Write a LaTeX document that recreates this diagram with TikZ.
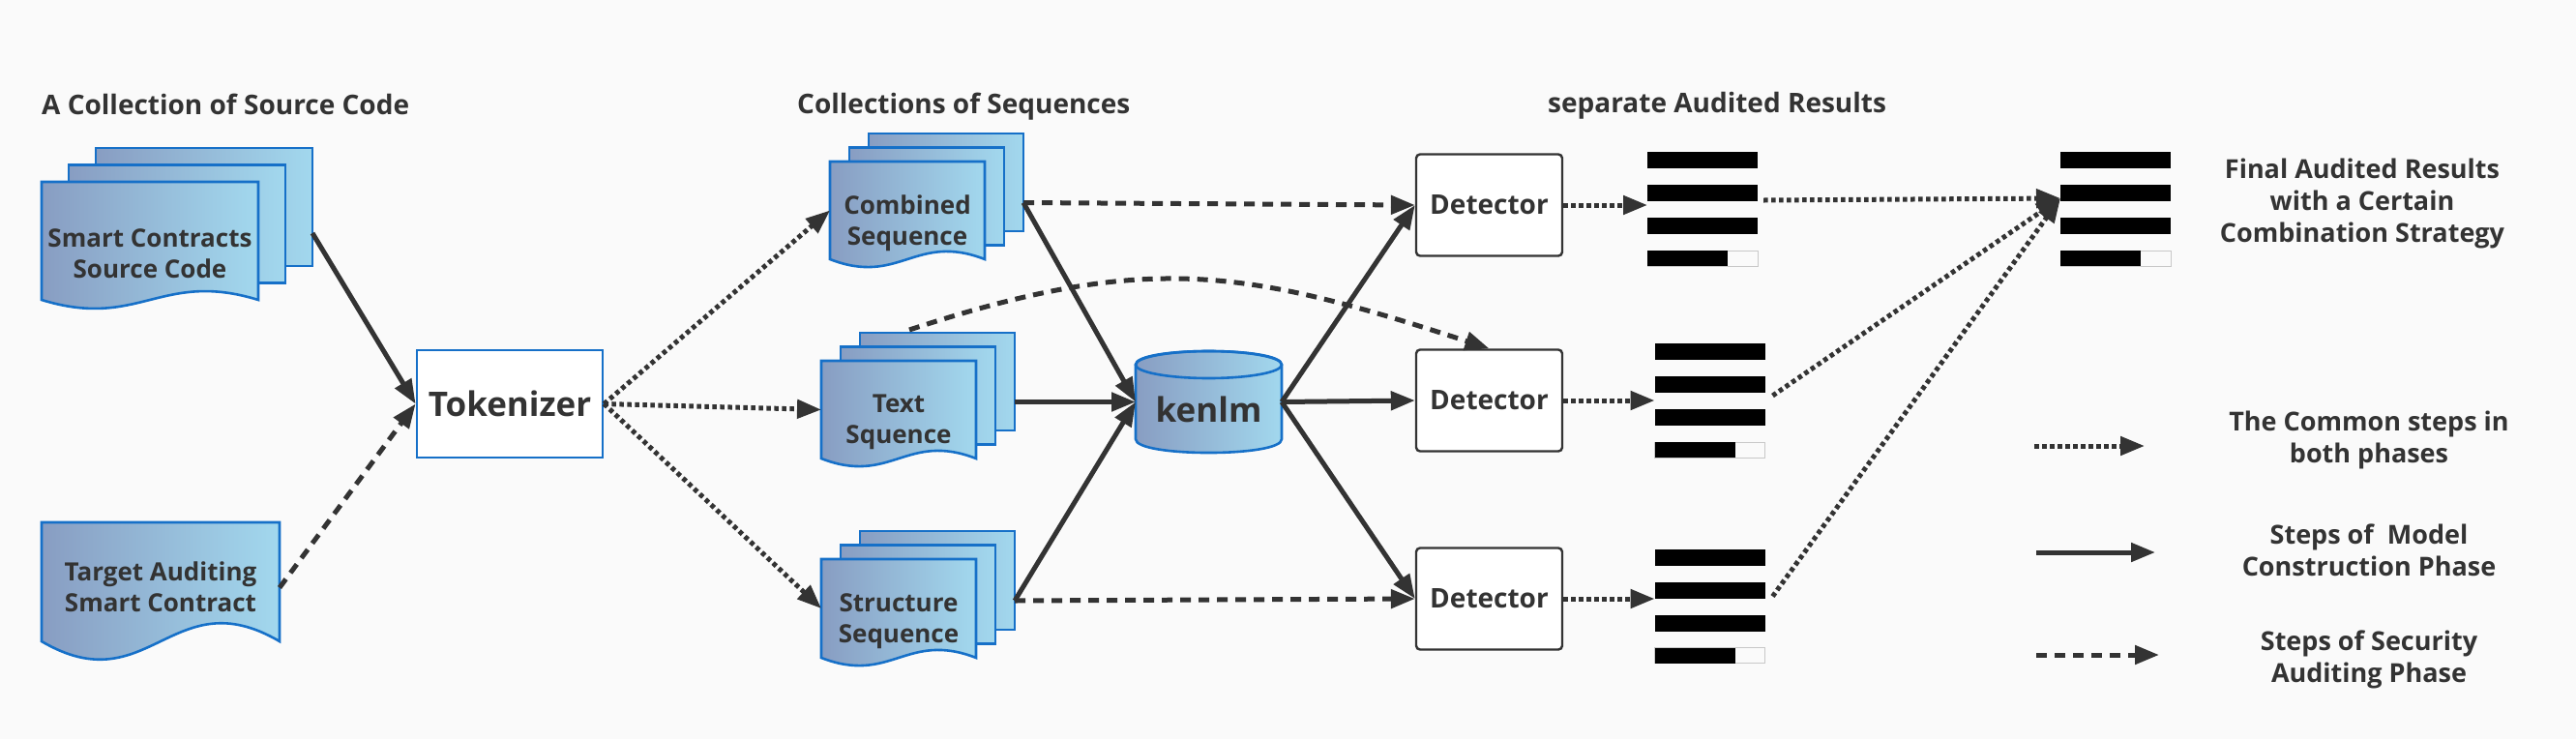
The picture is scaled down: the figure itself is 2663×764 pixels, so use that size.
\documentclass[tikz,border=0pt]{standalone}
\usepackage{fontspec}
\setmainfont{Open Sans}
\usepackage{tikz}
\usetikzlibrary{arrows.meta,calc}
\definecolor{ink}     {HTML}{333333}
\definecolor{paper}   {HTML}{FAFAFA}
\definecolor{pageline}{HTML}{1670C8}
\definecolor{pagelow} {HTML}{889DC2}
\definecolor{pagehigh}{HTML}{A2D8EE}
\definecolor{barrim}  {HTML}{C8C8C8}
\tikzset{
  page/.style     = {draw=pageline, line width=2.6pt, left color=pagelow, right color=pagehigh},
  pagebox/.style  = {inner sep=0pt, outer sep=0pt},
  pagetext/.style = {font=\fontsize{26}{31.5}\selectfont\bfseries, text=ink, align=center},
  tokbox/.style   = {draw=pageline, line width=2.8pt, fill=white, minimum width=192pt,
                     minimum height=111pt, font=\fontsize{35}{40}\selectfont\bfseries, text=ink},
  detbox/.style   = {draw=ink, line width=2.4pt, rounded corners=4pt, fill=white,
                     minimum width=151pt, minimum height=105pt,
                     font=\fontsize{28}{32}\selectfont\bfseries, text=ink},
  listbox/.style  = {minimum width=114pt, minimum height=118pt, inner sep=0pt, outer sep=0pt},
  cylbox/.style   = {minimum width=151pt, minimum height=105pt, inner sep=0pt, outer sep=0pt},
  cyltext/.style  = {font=\fontsize{35}{40}\selectfont\bfseries, text=ink},
  title/.style    = {font=\fontsize{28}{32}\selectfont\bfseries, text=ink, anchor=west, inner sep=0pt},
  note/.style     = {font=\fontsize{27}{33}\selectfont\bfseries, text=ink, align=center},
  arrowhead/.style= {-{Triangle[length=25pt, width=19pt]}},
  common/.style   = {arrowhead, draw=ink, line width=5pt, dash pattern=on 4.5pt off 3.5pt},
  build/.style    = {arrowhead, draw=ink, line width=5pt},
  audit/.style    = {arrowhead, draw=ink, line width=5pt, dash pattern=on 11pt off 8pt},
}
% one page with a wavy foot: left, top, width, height, wave
\newcommand\wavypage[5]{%
  \path[page] (#1,#2) -- ++(#3,0) -- ++(0,#4)
    .. controls +(-0.45*#3,-#5) and +(0.45*#3,#5) .. ++(-#3,0) -- cycle;}
% three stacked pages: name, left, top, width, height, step right, step up, wave, text
\newcommand\pagestack[9]{%
  \path[page] (#2+2*#6,#3-2*#7) rectangle ++(#4,#5);
  \path[page] (#2+#6,#3-#7) rectangle ++(#4,#5);
  \wavypage{#2}{#3}{#4}{#5}{#8}
  \node[pagebox, minimum width=#4pt, minimum height=#5pt] (#1) at (#2+#4/2,#3+#5/2) {};
  \node[pagetext] (#1-label) at ($(#1)+(0,13)$) {#9};
  \coordinate (#1-out) at (#2+2*#6+#4,#3+#5/2-8);}
% four result bars inside a list node
\newcommand\barlist[1]{%
  \foreach \k in {0,1,2}
    \fill[black] ($(#1.north west)+(0,34*\k)$) rectangle ++(114,17);
  \draw[barrim, line width=0.8pt] ($(#1.north west)+(0,102)$) rectangle ++(114,16);
  \fill[black] ($(#1.north west)+(0,102)$) rectangle ++(83,16);}

\begin{document}
\begin{tikzpicture}[x=1pt, y=-1pt]
  \path[use as bounding box, fill=paper] (0,0) rectangle (2663,764);

  % titles
  \node[title] (ttlsrc) at (43,108)   {A Collection of Source Code};
  \node[title] (ttlseq) at (824,110)  {Collections of Sequences};
  \node[title] (ttlres) at (1600,109) {separate Audited Results};

  % inputs
  \pagestack{srccode}{43}{188}{224}{122}{28}{17.5}{31}{Smart Contracts\\Source Code}
  \wavypage{43}{540}{246}{123}{65}
  \node[pagebox, minimum width=246pt, minimum height=123pt] (target) at (166,601.5) {};
  \node[pagetext] (target-label) at ($(target)+(0,5)$) {Target Auditing\\Smart Contract};
  \coordinate (target-out) at ($(target.east)+(0,6)$);

  \node[tokbox] (tok) at (527,417.5) {Tokenizer};

  % sequences
  \pagestack{combseq}{858}{167}{160}{101}{20}{14.5}{28}{Combined\\Sequence}
  \pagestack{textseq}{849}{373}{160}{101}{20}{14.5}{28}{Text\\Squence}
  \pagestack{structseq}{849}{578}{160}{102}{20}{14.5}{28}{Structure\\Sequence}
  \coordinate (textseq-top) at ($(textseq.north)+(11,-32)$);

  % language model
  \node[cylbox] (kenlm) at (1249.5,415.5) {};
  \path[page] ($(kenlm.north west)+(0,14)$) -- ($(kenlm.south west)+(0,-14)$)
    .. controls +(0,18.7) and +(0,18.7) .. ($(kenlm.south east)+(0,-14)$)
    -- ($(kenlm.north east)+(0,14)$)
    .. controls +(0,-18.7) and +(0,-18.7) .. ($(kenlm.north west)+(0,14)$) -- cycle;
  \draw[pageline, line width=2.6pt] ($(kenlm.north)+(0,14)$) ellipse [x radius=75.5, y radius=14];
  \node[cyltext] (kenlm-label) at (1249.5,423) {kenlm};

  % detectors and results
  \node[detbox] (det1) at (1539.5,212) {Detector};
  \node[detbox] (det2) at (1539.5,414) {Detector};
  \node[detbox] (det3) at (1539.5,619) {Detector};
  \node[listbox] (r1)  at (1760,216)   {};
  \node[listbox] (r2)  at (1767.5,414) {};
  \node[listbox] (r3)  at (1767.5,626.5) {};
  \node[listbox] (fin) at (2187,216)   {};
  \barlist{r1} \barlist{r2} \barlist{r3} \barlist{fin}
  \coordinate (finin) at ($(fin.west)+(0,-11)$);
  \node[note] (fintext) at (2442,210) {Final Audited Results\\with a Certain\\Combination Strategy};

  % connectors
  \draw[build]  (srccode-out) -- (tok.west);
  \draw[audit]  (target-out) -- (tok.west);
  \draw[common] (tok.east) -- (combseq.west);
  \draw[common] (tok.east) -- (textseq.west);
  \draw[common] (tok.east) -- (structseq.west);
  \draw[build]  (combseq-out) -- (kenlm.west);
  \draw[build]  (textseq-out) -- (kenlm.west);
  \draw[build]  (structseq-out) -- (kenlm.west);
  \draw[audit]  (combseq-out) -- (det1.west);
  \draw[audit]  (structseq-out) -- (det3.west);
  \draw[audit]  (textseq-top) .. controls (1187,260) and (1287,278) .. (det2.north);
  \foreach \i in {1,2,3} {
    \draw[build]  (kenlm.east) -- (det\i.west);
    \draw[common] (det\i.east) -- (det\i.east -| r\i.west);
  }
  \draw[common] ($(r1.east)+(6,-9)$) -- (finin);
  \draw[common] ($(r2.east)+(8,-5)$) -- (finin);
  \draw[common] ($(r3.east)+(8,-10)$) -- (finin);

  % legend
  \coordinate (lg1a) at (2103,461); \coordinate (lg1b) at (2217,461);
  \coordinate (lg2a) at (2105,571); \coordinate (lg2b) at (2228,571);
  \coordinate (lg3a) at (2105,677); \coordinate (lg3b) at (2232,677);
  \draw[common] (lg1a) -- (lg1b);
  \draw[build]  (lg2a) -- (lg2b);
  \draw[audit]  (lg3a) -- (lg3b);
  \node[note] (lg1) at (2449,454.5) {The Common steps in\\both phases};
  \node[note] (lg2) at (2449,568.5) {Steps of\ \ Model\\Construction Phase};
  \node[note] (lg3) at (2449,682)   {Steps of Security\\Auditing Phase};
\end{tikzpicture}
\end{document}
